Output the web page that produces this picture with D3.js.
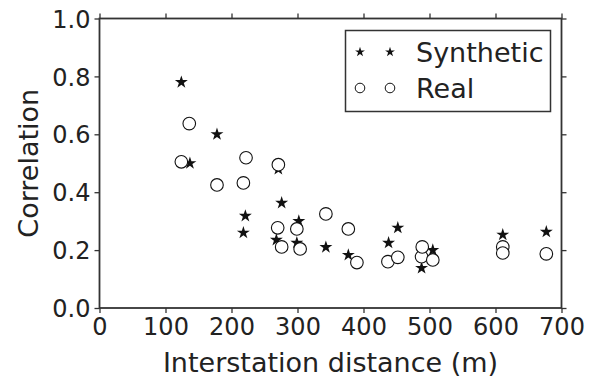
<!DOCTYPE html>
<html>
<head>
<meta charset="utf-8">
<script src="https://cdn.jsdelivr.net/npm/d3@7"></script>
<style>
  html, body { margin: 0; padding: 0; background: #fff; }
  svg { display: block; }
  text { font-family: "DejaVu Sans", sans-serif; fill: #222; }
</style>
</head>
<body>
<svg id="chart" width="594" height="378"></svg>
<script>
// Synthetic correlation vs interstation distance
const synthDist = [124, 137, 178, 218, 221, 268, 271, 276, 299, 302, 343, 377, 438, 452, 488, 505, 611, 677];
const synthCorr = [0.78, 0.50, 0.60, 0.26, 0.318, 0.235, 0.48, 0.363, 0.225, 0.30, 0.21, 0.183, 0.225, 0.277, 0.138, 0.20, 0.253, 0.263];

// Real (observed) correlation vs interstation distance
const realDist = [124, 136, 178, 218, 222, 271, 270, 276, 299, 304, 343, 377, 390, 437, 452, 488, 489, 505, 611, 611, 677];
const realCorr = [0.505, 0.637, 0.425, 0.432, 0.519, 0.495, 0.277, 0.211, 0.273, 0.204, 0.325, 0.273, 0.157, 0.16, 0.175, 0.177, 0.211, 0.166, 0.211, 0.19, 0.187];

const xTicks = [0, 100, 200, 300, 400, 500, 600, 700];
const yTicks = [0.0, 0.2, 0.4, 0.6, 0.8, 1.0];
const seriesNames = ["Synthetic", "Real"];

const svg = d3.select("#chart");
const plotLeft = 99.5, plotRight = 561.5, plotTop = 18.5, plotBottom = 308;

const x = d3.scaleLinear().domain([0, 700]).range([plotLeft, plotRight]);
const y = d3.scaleLinear().domain([0, 1]).range([plotBottom, plotTop]);

const axisColor = "#333";
const tickLen = 5;

function styleAxis(g) {
  g.select(".domain").remove();
  g.selectAll(".tick line").attr("stroke", axisColor).attr("stroke-width", 1.3);
  g.selectAll(".tick text")
    .style("font-family", "DejaVu Sans, sans-serif")
    .style("font-size", "24px")
    .attr("fill", "#222");
}

// bottom axis with labels
svg.append("g")
  .attr("transform", `translate(0,${plotBottom})`)
  .call(d3.axisBottom(x).tickValues(xTicks).tickFormat(d3.format("d")).tickSize(tickLen).tickPadding(5))
  .call(styleAxis);

// left axis with labels
svg.append("g")
  .attr("transform", `translate(${plotLeft},0)`)
  .call(d3.axisLeft(y).tickValues(yTicks).tickFormat(d3.format(".1f")).tickSize(tickLen).tickPadding(4))
  .call(styleAxis)
  .selectAll(".tick text").attr("dy", "0.36em");

// top and right axes: ticks only
svg.append("g")
  .attr("transform", `translate(0,${plotTop})`)
  .call(d3.axisTop(x).tickValues(xTicks).tickFormat("").tickSize(tickLen))
  .call(styleAxis);
svg.append("g")
  .attr("transform", `translate(${plotRight},0)`)
  .call(d3.axisRight(y).tickValues(yTicks).tickFormat("").tickSize(tickLen))
  .call(styleAxis);

// plot frame
svg.append("rect")
  .attr("x", plotLeft).attr("y", plotTop)
  .attr("width", plotRight - plotLeft).attr("height", plotBottom - plotTop)
  .attr("fill", "none").attr("stroke", axisColor).attr("stroke-width", 1.8);

// five-pointed star path centred on the origin
function starPath(R) {
  const r = R * 0.381966;
  const pts = d3.range(10).map(i => {
    const a = -Math.PI / 2 + i * Math.PI / 5;
    const rad = i % 2 === 0 ? R : r;
    return [rad * Math.cos(a), rad * Math.sin(a)];
  });
  return "M" + pts.map(p => p.join(",")).join("L") + "Z";
}

const markerR = 6.8;

// synthetic stars
svg.append("g").selectAll("path")
  .data(d3.zip(synthDist, synthCorr))
  .join("path")
  .attr("d", starPath(markerR))
  .attr("transform", d => `translate(${x(d[0])},${y(d[1])})`)
  .attr("fill", "#111");

// real circles on top
svg.append("g").selectAll("circle")
  .data(d3.zip(realDist, realCorr))
  .join("circle")
  .attr("cx", d => x(d[0]))
  .attr("cy", d => y(d[1]))
  .attr("r", markerR - 0.5)
  .attr("fill", "#fff")
  .attr("stroke", "#111")
  .attr("stroke-width", 1.1);

// axis titles
svg.append("text")
  .attr("x", (plotLeft + plotRight) / 2).attr("y", 372)
  .attr("text-anchor", "middle")
  .style("font-size", "27px")
  .text("Interstation distance (m)");

svg.append("text")
  .attr("transform", `translate(38,${(plotTop + plotBottom) / 2}) rotate(-90)`)
  .attr("text-anchor", "middle")
  .style("font-size", "27px")
  .text("Correlation");

// legend
const lg = svg.append("g");
lg.append("rect")
  .attr("x", 345.5).attr("y", 30.5).attr("width", 205).attr("height", 81)
  .attr("fill", "#fff").attr("stroke", axisColor).attr("stroke-width", 1.5);

const rows = [52, 88];
const legendR = 5.2;
[360, 390].forEach(mx => {
  lg.append("path").attr("d", starPath(legendR))
    .attr("transform", `translate(${mx},${rows[0]})`).attr("fill", "#111");
  lg.append("circle").attr("cx", mx).attr("cy", rows[1]).attr("r", legendR - 0.4)
    .attr("fill", "#fff").attr("stroke", "#111").attr("stroke-width", 1);
});
seriesNames.forEach((name, i) => {
  lg.append("text")
    .attr("x", 416).attr("y", rows[i]).attr("dy", "0.36em")
    .style("font-size", "27px")
    .text(name);
});
</script>
</body>
</html>
